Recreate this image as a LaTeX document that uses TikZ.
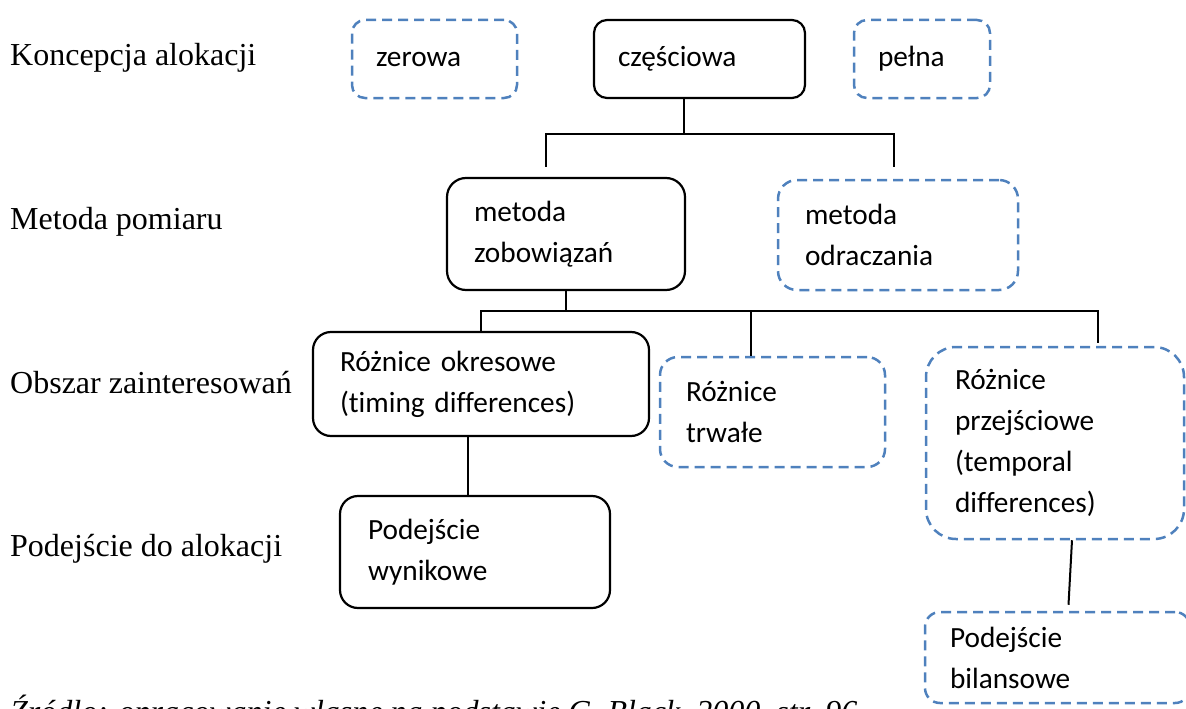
\documentclass[tikz,border=0pt]{standalone}
\usepackage{fontspec}
\setmainfont{Liberation Serif}
\newfontfamily\calibri[Ligatures=NoCommon]{Carlito}
\definecolor{blueline}{HTML}{4F81BD}
\begin{document}
\begin{tikzpicture}[x=1pt, y=-1pt,
    box/.style={draw, rounded corners=18pt, line width=2.2pt, align=left, inner xsep=0pt,
        font=\calibri\fontsize{29.3}{41}\selectfont},
    dbox/.style={box, draw=blueline, line width=2.5pt, dash pattern=on 10pt off 6pt},
    conn/.style={line width=2pt},
    lbl/.style={anchor=base west, inner sep=0pt, font=\fontsize{32}{38}\selectfont}]
    \useasboundingbox (0,0) rectangle (1186,709);

    % Koncepcja alokacji
    \node[lbl] (l1) at (10,66) {Koncepcja alokacji};
    \node[dbox, rounded corners=13pt, minimum width=165pt, minimum height=78pt, text width=117pt] (zerowa) at (434.5,59) {zerowa};
    \node[box, rounded corners=13pt, minimum width=211pt, minimum height=78pt, text width=163pt] (czesc) at (699.5,59) {częściowa};
    \node[dbox, rounded corners=13pt, minimum width=136pt, minimum height=78pt, text width=88pt] (pelna) at (922,59) {pełna};

    % Metoda pomiaru
    \node[lbl] (l2) at (10,229) {Metoda pomiaru};
    \node[box, rounded corners=19pt, minimum width=238pt, minimum height=112pt, text width=184pt] (zobow) at (566,234) {metoda\\zobowiązań};
    \node[dbox, rounded corners=19pt, minimum width=240pt, minimum height=110pt, text width=186pt] (odracz) at (898,235) {metoda\\odraczania};

    % Obszar zainteresowań
    \node[lbl] (l3) at (10,393) {Obszar zainteresowań};
    \node[box, minimum width=336pt, minimum height=104pt, text width=282pt] (okres) at (481,384) {Różnice okresowe\\(timing differences)};
    \node[dbox, minimum width=225pt, minimum height=110pt, text width=173pt] (trwale) at (772.5,412) {Różnice\\trwałe};
    \node[dbox, rounded corners=30pt, minimum width=258pt, minimum height=192pt, text width=200pt] (przej) at (1055,443) {Różnice\\przejściowe\\(temporal\\differences)};

    % Podejście do alokacji
    \node[lbl] (l4) at (10,556) {Podejście do alokacji};
    \node[box, minimum width=270pt, minimum height=112pt, text width=214pt] (wynik) at (475,552) {Podejście\\wynikowe};
    \node[dbox, rounded corners=15pt, minimum width=265pt, minimum height=91pt, text width=215pt] (bilans) at (1057.5,657.5) {Podejście\\bilansowe};

    % Źródło
    \node[lbl, font=\itshape\fontsize{32}{38}\selectfont] (src) at (10,722) {Źródło: opracowanie własne na podstawie G. Black, 2000, str. 96};

    % connectors
    \draw[conn] ([xshift=-15.5pt]czesc.south) -- ++(0,35) coordinate (j1);
    \draw[conn] ([xshift=-20pt,yshift=10pt]zobow.north) |- (j1) -| ([xshift=-4pt,yshift=12pt]odracz.north);
    \draw[conn] (zobow.south) -- ++(0,20) coordinate (j2);
    \draw[conn] (okres.north) |- (j2) -| ([xshift=43pt,yshift=3pt]przej.north);
    \draw[conn] ([xshift=-21.5pt]trwale.north) -- ([xshift=-21.5pt]trwale.north |- j2);
    \draw[conn] ([xshift=-13pt]okres.south) -- ([xshift=-13pt]okres.south |- wynik.north);
    \draw[conn] ([xshift=17pt]przej.south) -- ([xshift=11pt,yshift=6pt]bilans.north);
\end{tikzpicture}
\end{document}
